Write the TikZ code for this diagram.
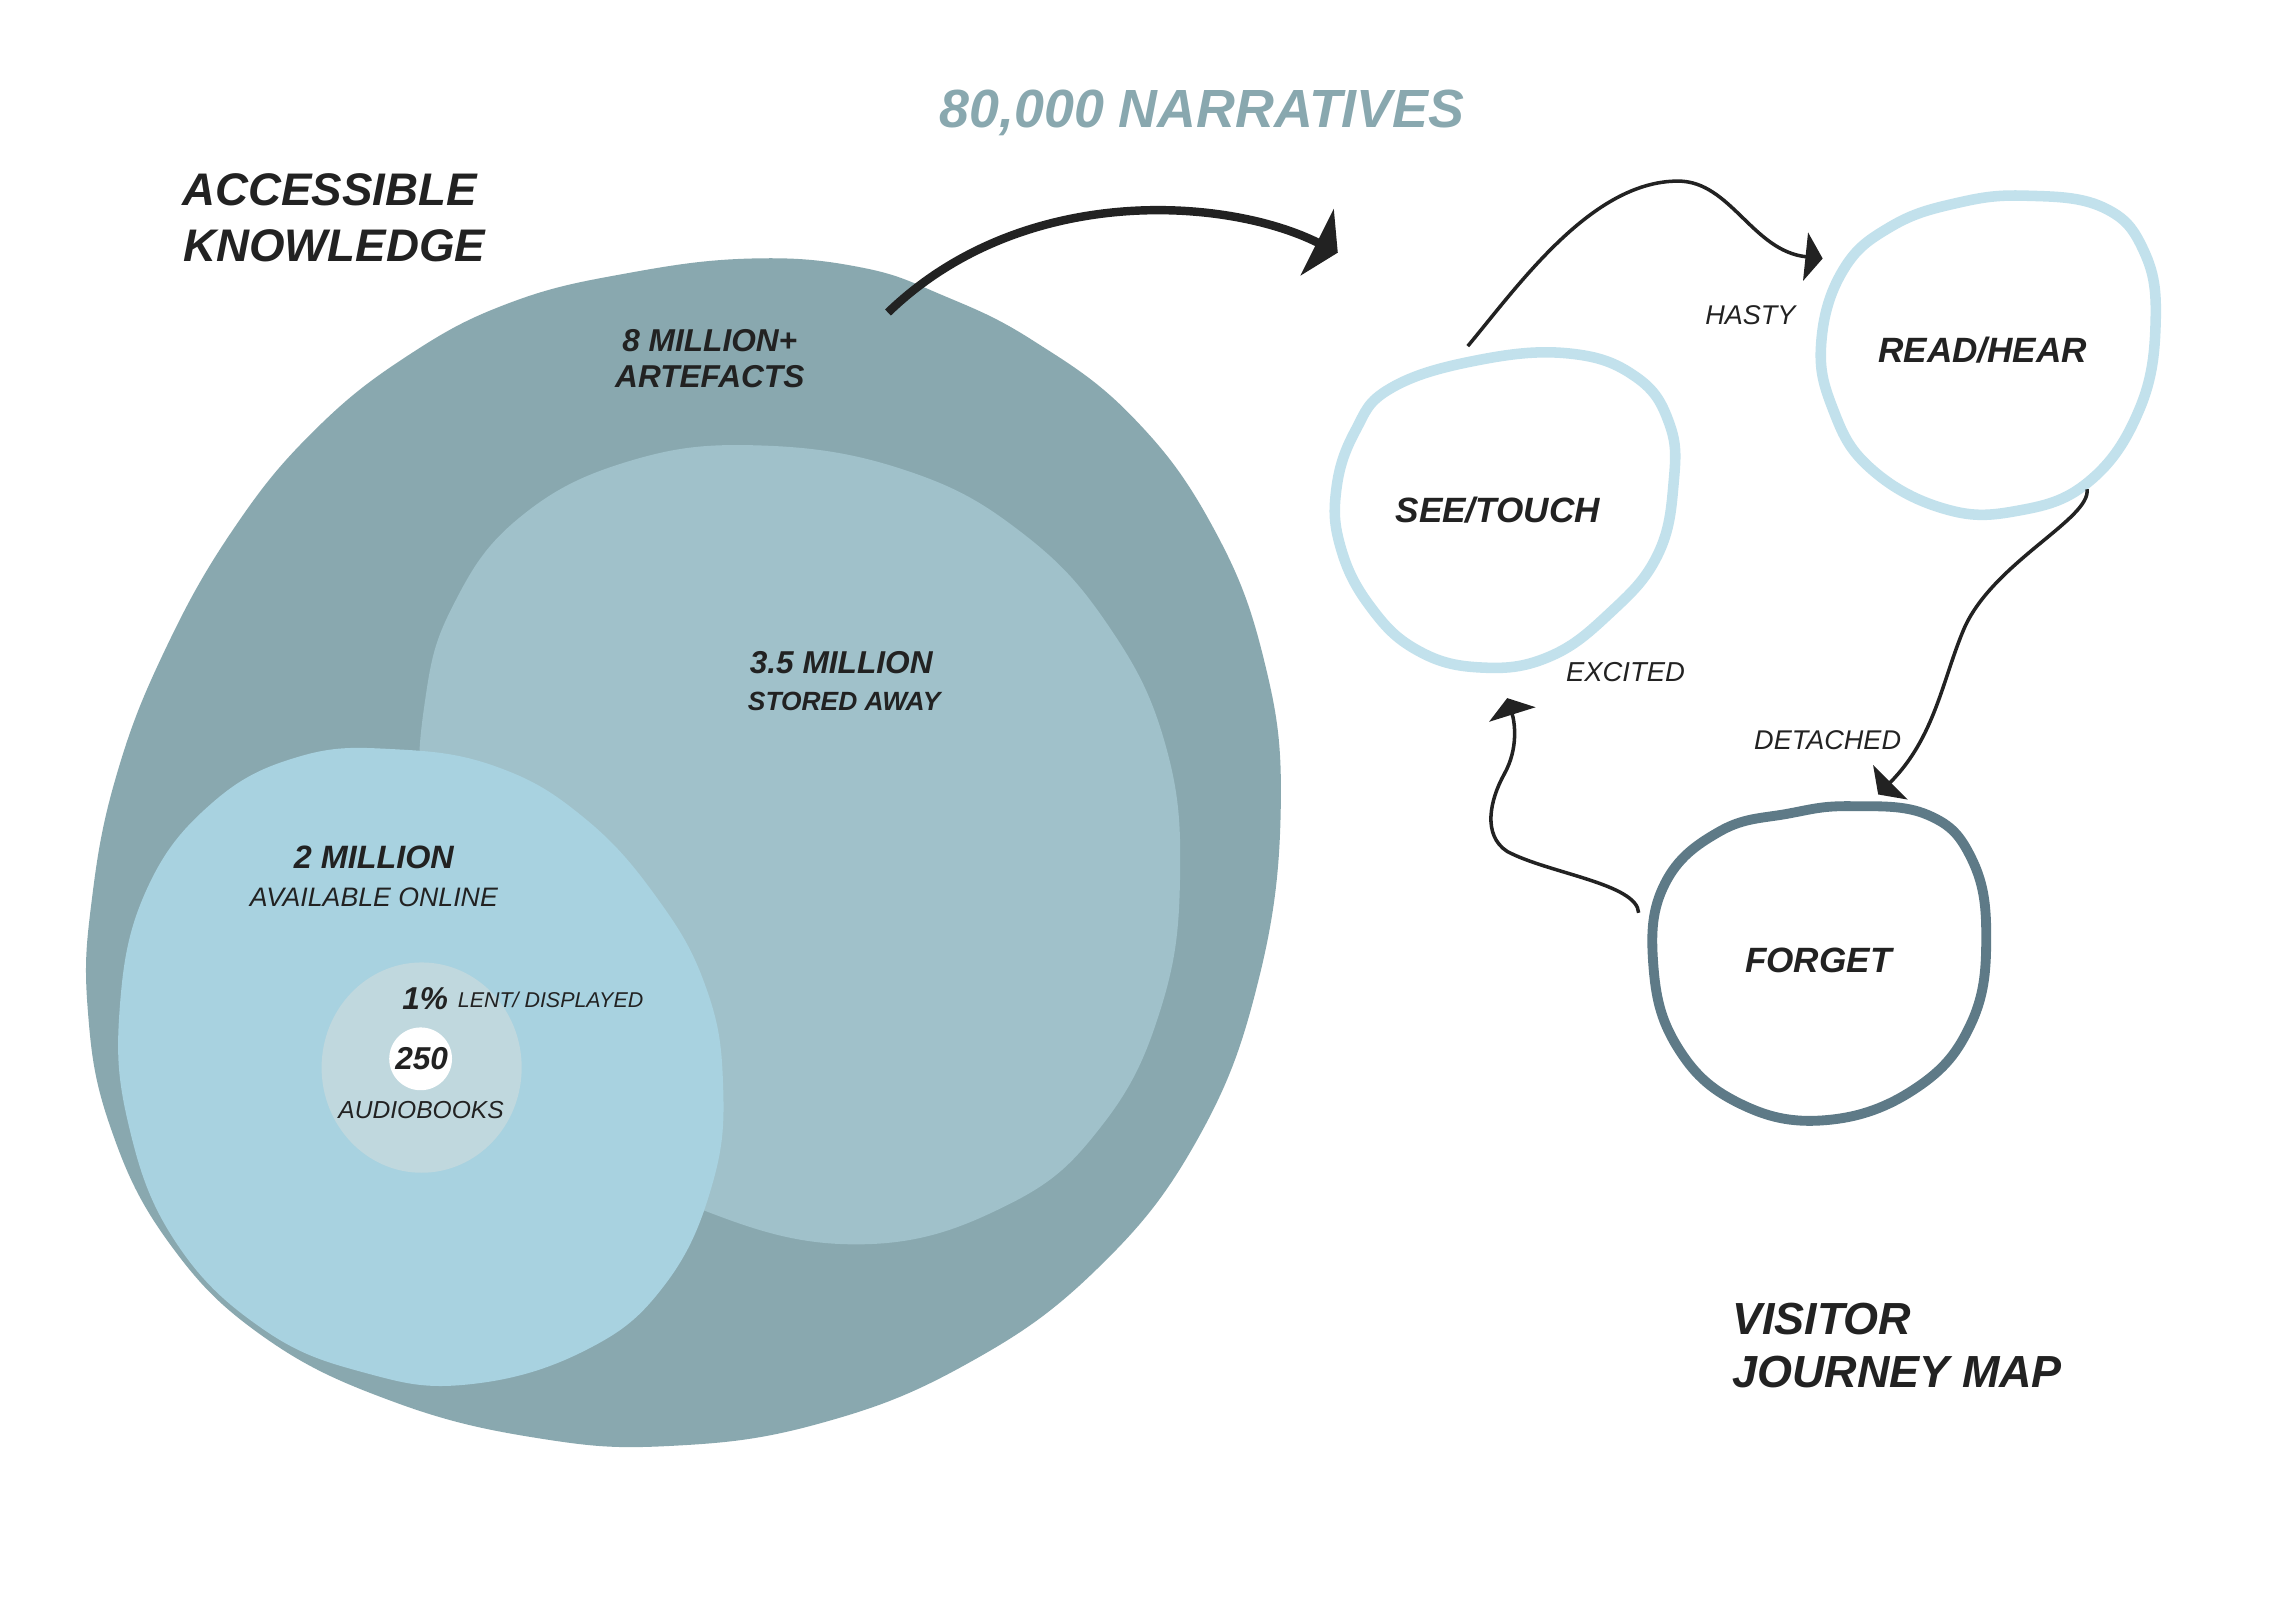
\documentclass[tikz,border=0pt]{standalone}
\usepackage{fontspec}
\setmainfont{Liberation Sans}
\usetikzlibrary{arrows.meta}
\definecolor{outerc}{RGB}{137,168,175}
\definecolor{midc}{RGB}{160,193,202}
\definecolor{lightc}{RGB}{168,210,224}
\definecolor{palec}{RGB}{192,216,222}
\definecolor{ringlight}{RGB}{194,225,236}
\definecolor{ringdark}{RGB}{94,122,135}
\definecolor{inkc}{RGB}{34,34,34}
\newcommand{\mybi}[1]{\fontsize{#1}{#1}\selectfont\bfseries\itshape}
\newcommand{\myit}[1]{\fontsize{#1}{#1}\selectfont\itshape}
\begin{document}
\begin{tikzpicture}[x=0.14605mm,y=-0.14605mm,
  lbl/.style={inner sep=0pt,text=inkc,anchor=base},
  lblw/.style={inner sep=0pt,text=inkc,anchor=base west},
  flow/.style={draw=inkc,line width=1pt,-{Triangle[length=4.9pt,width=13.7pt]}},
  bigflow/.style={draw=inkc,line width=2.4pt,-{Triangle[length=6.6pt,width=21pt]}},
  ringA/.style={draw=ringlight,line width=3pt},
  ringB/.style={draw=ringdark,line width=2.8pt}]
\useasboundingbox (0,0) rectangle (1568,1097);
\fill[white] (0,0) rectangle (1568,1097);

% ---- left: nested blobs
\fill[outerc] plot[smooth cycle,tension=0.7] coordinates {
 (515,177) (589,183) (645,202) (707,233) (775,285) (830,360) (865,450) (877,550)
 (862,670) (820,780) (750,870) (660,935) (560,975) (460,990) (370,985) (270,960)
 (180,915) (115,850) (75,770) (60,690) (63,615) (80,530) (113,445) (160,362)
 (215,295) (280,243) (350,207) (430,187)};
\fill[midc] plot[smooth cycle,tension=0.7] coordinates {
 (520,305) (620,322) (700,365) (760,430) (798,510) (808,600) (795,690) (755,770)
 (690,825) (590,852) (480,828) (380,770) (310,660) (289,560) (291,480) (310,415)
 (355,355) (430,316)};
\fill[lightc] plot[smooth cycle,tension=0.7] coordinates {
 (270,513) (340,525) (400,560) (450,615) (483,675) (495,740) (488,810) (455,880)
 (400,925) (320,948) (250,940) (180,910) (120,850) (88,770) (82,690) (100,610)
 (145,550) (205,518)};
\fill[palec] (288.7,731) ellipse [x radius=68.5,y radius=72];
\fill[white] (288,725) circle [radius=21.5];

% ---- left texts
\node[lblw,font=\mybi{13}] (acc1) at (124.5,141) {ACCESSIBLE};
\node[lblw,font=\mybi{13}] (acc2) at (125,179) {KNOWLEDGE};
\node[lbl,font=\mybi{15.3},text=outerc] (narr) at (823,87) {80,000 NARRATIVES};
\node[lbl,font=\mybi{9}] (art1) at (486,241) {8 MILLION+};
\node[lbl,font=\mybi{9}] (art2) at (486,265) {ARTEFACTS};
\node[lbl,font=\mybi{9}] (sto1) at (576,461) {3.5 MILLION};
\node[lbl,font=\mybi{7.5}] (sto2) at (578,486.5) {STORED AWAY};
\node[lbl,font=\mybi{9.2}] (onl1) at (256,595) {2 MILLION};
\node[lbl,font=\myit{7.6}] (onl2) at (256,621) {AVAILABLE ONLINE};
\node[lblw,font=\mybi{9}] (pct) at (275,691) {1\%};
\node[lblw,font=\myit{6.1}] (lent) at (313,690) {LENT/ DISPLAYED};
\node[lbl,font=\mybi{9}] (aud1) at (288.7,732.6) {250};
\node[lbl,font=\myit{7}] (aud2) at (288.3,765.6) {AUDIOBOOKS};

% ---- right: journey blobs
\draw[ringA] plot[smooth cycle,tension=0.7] coordinates {
 (1074,242) (1120,258) (1143,290) (1146,330) (1135,380) (1102,420) (1060,450)
 (1013,457) (970,445) (938,415) (918,375) (915,335) (928,295) (952,266) (1010,247)};
\draw[ringA] plot[smooth cycle,tension=0.7] coordinates {
 (1387,134) (1440,142) (1468,172) (1476,220) (1465,280) (1430,330) (1380,350)
 (1330,348) (1280,320) (1255,280) (1247,235) (1262,185) (1295,155) (1340,139)};
\draw[ringB] plot[smooth cycle,tension=0.7] coordinates {
 (1267,552) (1320,558) (1350,588) (1360,640) (1350,700) (1312,745) (1250,767)
 (1190,755) (1148,716) (1132,660) (1140,605) (1178,569) (1225,557)};

\node[lbl,font=\mybi{10}] (see) at (1025.6,357.8) {SEE/TOUCH};
\node[lbl,font=\mybi{10}] (read) at (1357.6,248.4) {READ/HEAR};
\node[lbl,font=\mybi{10}] (forget) at (1245,666) {FORGET};
\node[lbl,font=\myit{7.7}] (hasty) at (1198.5,222.5) {HASTY};
\node[lbl,font=\myit{7.8}] (excited) at (1113,466.7) {EXCITED};
\node[lbl,font=\myit{7.7}] (detached) at (1251.4,513.5) {DETACHED};
\node[lblw,font=\mybi{12.8}] (vis1) at (1185.5,914) {VISITOR};
\node[lblw,font=\mybi{12.8}] (vis2) at (1185.5,950) {JOURNEY MAP};

% ---- connectors
\coordinate (bigS) at (608,214);
\coordinate (bigE) at (916,173);
\draw[bigflow] (bigS) .. controls (700,125) and (840,135) .. (bigE);

\coordinate (seeOut) at (1005,237);
\coordinate (hastyTop) at (1149,124);
\coordinate (readIn) at (1248,177);
\draw[flow] (seeOut) .. controls (1040,195) and (1090,124) .. (hastyTop)
  .. controls (1185,124) and (1200,172) .. (readIn);

\coordinate (readOut) at (1429,335);
\coordinate (detMid) at (1345,430);
\coordinate (forgetIn) at (1286,544);
\draw[flow] (readOut) .. controls (1432,355) and (1365,385) .. (detMid)
  .. controls (1330,465) and (1325,505) .. (forgetIn);

\coordinate (forgetOut) at (1122,625);
\coordinate (excA) at (1032,583);
\coordinate (excB) at (1030,530);
\coordinate (seeIn) at (1032,478);
\draw[flow] (forgetOut) .. controls (1121,605) and (1060,598) .. (excA)
  .. controls (1015,572) and (1020,548) .. (excB)
  .. controls (1040,512) and (1037,494) .. (seeIn);
\end{tikzpicture}
\end{document}
